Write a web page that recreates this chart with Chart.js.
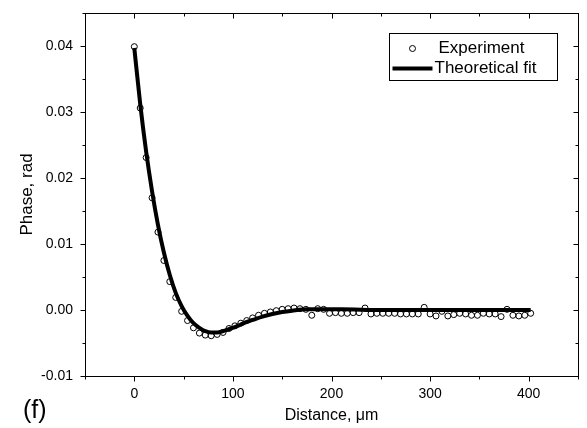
<!DOCTYPE html>
<html>
<head>
<meta charset="utf-8">
<script src="https://cdn.jsdelivr.net/npm/chart.js@4.4.1/dist/chart.umd.min.js"></script>
<style>
  html, body { margin: 0; padding: 0; background: #fff; }
</style>
</head>
<body>
<canvas id="phase-chart" width="587" height="428"></canvas>
<script>
// Experimental points (distance in um, phase in rad)
const distance = [
  0, 6, 12, 18, 24, 30, 36, 42, 48, 54, 60, 66, 72, 78, 84, 90, 96,
  102, 108, 114, 120, 126, 132, 138, 144, 150, 156, 162, 168, 174, 180,
  186, 192, 198, 204, 210, 216, 222, 228, 234, 240, 246, 252, 258, 264,
  270, 276, 282, 288, 294, 300, 306, 312, 318, 324, 330, 336, 342, 348,
  354, 360, 366, 372, 378, 384, 390, 396, 402
];
const phase = [
  0.0399, 0.0306, 0.0231, 0.0170, 0.0118, 0.0075, 0.0043, 0.0019, -0.0002,
  -0.0016, -0.0027, -0.0035, -0.0038, -0.0039, -0.0037, -0.0034, -0.0028,
  -0.0024, -0.0020, -0.0016, -0.0012, -0.0008, -0.0005, -0.0003, -0.0001,
  0.0001, 0.0002, 0.0003, 0.0002, 0.0001, -0.0008, 0.0002, 0.0001, -0.0005,
  -0.0004, -0.0005, -0.0005, -0.0004, -0.0004, 0.0003, -0.0006, -0.0005,
  -0.0005, -0.0005, -0.0005, -0.0006, -0.0006, -0.0006, -0.0006, 0.0004,
  -0.0006, -0.0009, -0.0002, -0.0009, -0.0007, -0.0005, -0.0006, -0.0008,
  -0.0008, -0.0005, -0.0006, -0.0006, -0.0010, 0.0001, -0.0008, -0.0009,
  -0.0008, -0.0005
];

// Theoretical fit
const fitDistance = [
  0, 6, 12, 18, 24, 30, 36, 42, 48, 54, 60, 66, 72, 78, 84, 90, 96, 102,
  108, 114, 120, 130, 140, 150, 160, 175, 190, 210, 250, 300, 350, 402
];
const fitPhase = [
  0.0397, 0.0312, 0.0240, 0.0180, 0.0129, 0.0087, 0.0053, 0.0026, 0.0006,
  -0.0009, -0.0020, -0.0027, -0.0032, -0.0034, -0.0034, -0.0032, -0.0029,
  -0.0026, -0.0022, -0.0018, -0.0015, -0.0010, -0.0006, -0.0003, -0.0001,
  0.0001, 0.0001, 0.0001, 0.0000, 0.0000, 0.0000, 0.0000
];

const xTickLabels = [0, 100, 200, 300, 400];
const yTickLabels = ['-0.01', '0.00', '0.01', '0.02', '0.03', '0.04'];

const FONT = '"Liberation Sans", Arial, sans-serif';

function isMajorX(v) {
  return xTickLabels.includes(v);
}
function yLabel(v) {
  let s = v.toFixed(2);
  if (s === '-0.00') s = '0.00';
  const onGrid = Math.abs(Math.round(v * 100) - v * 100) < 1e-6;
  return onGrid && yTickLabels.includes(s) ? s : '';
}

// box frame with outward ticks on bottom/left and inward ticks on top/right
const frameTicks = {
  id: 'frameTicks',
  afterDraw(chart) {
    const { ctx, chartArea: a, scales: { x, y } } = chart;
    ctx.save();
    ctx.strokeStyle = '#000';
    ctx.lineWidth = 1;
    const L = Math.round(a.left) + 0.5, R = Math.round(a.right) + 0.5;
    const T = Math.round(a.top) + 0.5, B = Math.round(a.bottom) + 0.5;
    ctx.strokeRect(L, T, R - L, B - T);
    ctx.beginPath();
    x.ticks.forEach(t => {
      const px = Math.round(x.getPixelForValue(t.value)) + 0.5;
      const len = isMajorX(t.value) ? 5 : 3;
      ctx.moveTo(px, B); ctx.lineTo(px, B + len);
      ctx.moveTo(px, T); ctx.lineTo(px, T + len);
    });
    y.ticks.forEach(t => {
      const py = Math.round(y.getPixelForValue(t.value)) + 0.5;
      const len = yLabel(t.value) ? 5 : 3;
      ctx.moveTo(L, py); ctx.lineTo(L - len, py);
      ctx.moveTo(R, py); ctx.lineTo(R - len, py);
    });
    ctx.stroke();

    // panel letter
    ctx.fillStyle = '#000';
    ctx.font = '25px ' + FONT;
    ctx.textBaseline = 'alphabetic';
    ctx.fillText('(f)', 23, 418);
    ctx.restore();
  }
};

// legend drawn inside the plot, top right
const insideLegend = {
  id: 'insideLegend',
  afterDraw(chart) {
    const { ctx, chartArea: a } = chart;
    const ds = chart.data.datasets;
    const bx = Math.round(a.right) - 21 + 0.5 - 168, by = Math.round(a.top) + 20 + 0.5;
    ctx.save();
    ctx.fillStyle = '#fff';
    ctx.fillRect(bx, by, 168, 47);
    ctx.strokeStyle = '#000';
    ctx.lineWidth = 1;
    ctx.strokeRect(bx, by, 168, 47);

    ctx.font = '17px ' + FONT;
    ctx.fillStyle = '#000';
    ctx.textBaseline = 'middle';
    // row 1: experiment
    ctx.beginPath();
    ctx.arc(bx + 23, by + 15, 3, 0, Math.PI * 2);
    ctx.stroke();
    ctx.fillText(ds[1].label, bx + 49, by + 15);
    // row 2: fit
    ctx.lineWidth = ds[0].borderWidth;
    ctx.beginPath();
    ctx.moveTo(bx + 3, by + 35);
    ctx.lineTo(bx + 43, by + 35);
    ctx.stroke();
    ctx.fillText(ds[0].label, bx + 45, by + 35);
    ctx.restore();
  }
};

const chartData = {
  datasets: [
    {
      label: 'Theoretical fit',
      data: fitDistance.map((d, i) => ({ x: d, y: fitPhase[i] })),
      showLine: true,
      borderColor: '#000',
      borderWidth: 4,
      pointRadius: 0,
      cubicInterpolationMode: 'monotone',
      order: 0
    },
    {
      label: 'Experiment',
      data: distance.map((d, i) => ({ x: d, y: phase[i] })),
      showLine: false,
      pointRadius: 3,
      pointBorderWidth: 1,
      pointBorderColor: '#000',
      pointBackgroundColor: 'rgba(0,0,0,0)',
      order: 1
    }
  ]
};

const chartConfig = {
  type: 'scatter',
  data: chartData,
  options: {
    responsive: false,
    animation: false,
    layout: { padding: { top: 13, right: 9, left: 0, bottom: 0 } },
    plugins: {
      legend: { display: false },
      tooltip: { enabled: false }
    },
    scales: {
      x: {
        type: 'linear',
        min: -50,
        max: 450,
        grid: { display: false, drawTicks: false },
        border: { display: false },
        ticks: {
          stepSize: 50,
          autoSkip: false,
          maxRotation: 0,
          padding: 10,
          color: '#000',
          font: { family: FONT, size: 14 },
          callback: v => (isMajorX(v) ? String(v) : '')
        },
        title: {
          display: true,
          text: 'Distance, \u03bcm',
          color: '#000',
          font: { family: FONT, size: 16 },
          padding: { top: 0, bottom: 3 }
        },
        afterFit: s => {
          s.height = 52;
          s.paddingLeft = 0;
          s.paddingRight = 0;
        }
      },
      y: {
        type: 'linear',
        min: -0.01,
        max: 0.045,
        grid: { display: false, drawTicks: false },
        border: { display: false },
        ticks: {
          stepSize: 0.005,
          autoSkip: false,
          padding: 12,
          color: '#000',
          font: { family: FONT, size: 14 },
          callback: v => yLabel(v)
        },
        title: {
          display: true,
          text: 'Phase, rad',
          color: '#000',
          font: { family: FONT, size: 17 },
          padding: { top: 17, bottom: 0 }
        },
        afterFit: s => {
          s.width = 85;
          s.paddingTop = 0;
          s.paddingBottom = 0;
        }
      }
    }
  },
  plugins: [frameTicks, insideLegend]
};

const ctx = document.getElementById('phase-chart').getContext('2d');
new Chart(ctx, chartConfig);
</script>
</body>
</html>
